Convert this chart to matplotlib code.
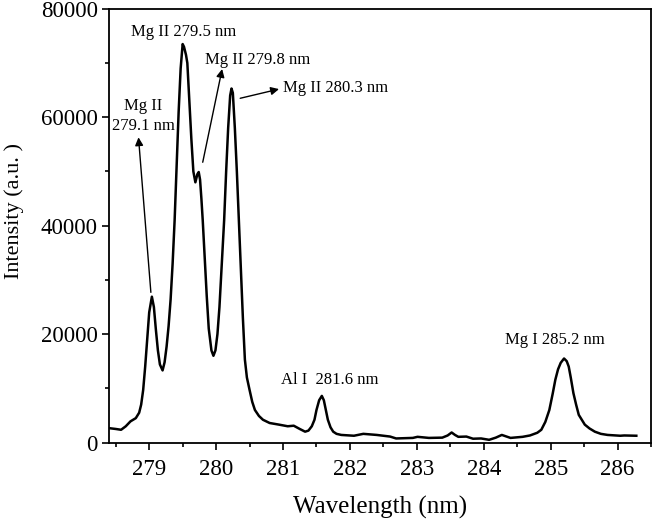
import matplotlib.pyplot as plt

# spectrum
wavelength = [278.40, 278.50, 278.58, 278.65, 278.72, 278.80, 278.85, 278.88, 278.91, 278.94,
              278.97, 279.00, 279.04, 279.07, 279.10, 279.13, 279.16, 279.20, 279.23, 279.26,
              279.29, 279.32, 279.35, 279.38, 279.41, 279.44, 279.47, 279.50, 279.52, 279.55,
              279.57, 279.60, 279.63, 279.66, 279.69, 279.72, 279.74, 279.76, 279.78, 279.80,
              279.83, 279.86, 279.89, 279.93, 279.96, 279.99, 280.02, 280.05, 280.08, 280.12,
              280.15, 280.18, 280.21, 280.23, 280.25, 280.28, 280.31, 280.34, 280.37, 280.40,
              280.43, 280.46, 280.50, 280.54, 280.58, 280.64, 280.70, 280.80, 280.94, 281.07,
              281.16, 281.25, 281.33, 281.38, 281.43, 281.47, 281.50, 281.54, 281.58, 281.61,
              281.64, 281.67, 281.71, 281.75, 281.80, 281.87, 282.06, 282.20, 282.40, 282.60,
              282.69, 282.94, 283.01, 283.18, 283.38, 283.46, 283.52, 283.57, 283.62, 283.74,
              283.84, 283.96, 284.08, 284.18, 284.27, 284.34, 284.40, 284.58, 284.69, 284.80,
              284.86, 284.92, 284.98, 285.03, 285.07, 285.11, 285.15, 285.20, 285.24, 285.27,
              285.30, 285.34, 285.38, 285.42, 285.51, 285.58, 285.66, 285.75, 285.85, 286.04,
              286.10, 286.28]
intensity = [2650, 2500, 2350, 3000, 3900, 4500, 5500, 7000, 9700, 14000,
             19000, 24000, 26900, 25000, 20800, 17000, 14400, 13300, 14800, 17700,
             21500, 26400, 33000, 41000, 51000, 61000, 69000, 73500, 73000, 71500,
             70000, 63000, 56000, 50000, 48000, 49500, 49900, 48500, 45000, 41000,
             34000, 27000, 21000, 17000, 16000, 17000, 20000, 25000, 32000, 41000,
             50000, 58000, 64000, 65300, 64500, 58000, 50000, 41000, 32000, 23000,
             15300, 12000, 9700, 7500, 6000, 4900, 4200, 3600, 3300, 3000,
             3100, 2500, 2000, 2200, 3000, 4200, 6000, 7800, 8600, 7800,
             6000, 4200, 2800, 2000, 1600, 1400, 1250, 1600, 1400, 1100,
             750, 850, 1050, 850, 900, 1300, 1850, 1400, 1050, 1100,
             700, 750, 500, 900, 1400, 1100, 850, 1050, 1300, 1800,
             2350, 3800, 6000, 9000, 11600, 13500, 14700, 15500, 15000, 14000,
             12000, 9100, 7000, 5100, 3300, 2600, 2000, 1600, 1400, 1250,
             1300, 1250]

x_ticks = [279, 280, 281, 282, 283, 284, 285, 286]
y_ticks = [0, 20000, 40000, 60000, 80000]

plt.rcParams['font.family'] = ['Liberation Serif', 'DejaVu Serif']

fig = plt.figure(figsize=(6.53, 5.2), dpi=100)
ax = fig.add_axes([0.167, 0.149, 0.83, 0.834])

ax.plot(wavelength, intensity, color='black', lw=1.8)

ax.set_xlim(278.4, 286.29)
ax.set_ylim(0, 80000)
ax.set_xticks(x_ticks)
ax.set_yticks(y_ticks)
ax.set_xticks([t + 0.5 for t in [278] + x_ticks], minor=True)
ax.set_yticks([10000, 30000, 50000, 70000], minor=True)
ax.tick_params(which='both', direction='out', top=False, right=False, labelsize=16.5, width=1.2)
ax.tick_params(which='major', length=5)
ax.tick_params(which='minor', length=3)
ax.tick_params(axis='x', which='major', pad=7)
ax.tick_params(axis='y', which='major', pad=3)
for s in ax.spines.values():
    s.set_linewidth(1.3)

ax.set_xlabel('Wavelength (nm)', fontsize=18)
ax.xaxis.set_label_coords(0.5, -0.122)
ax.set_ylabel('Intensity (a.u. )', fontsize=16)
ax.yaxis.set_label_coords(-0.157, 0.535)

arrow = dict(arrowstyle='-|>', color='black', lw=1, mutation_scale=12, shrinkA=0, shrinkB=0)
fs = 12

ax.text(278.91, 60200, 'Mg II\n279.1 nm', ha='center', va='center', fontsize=fs, linespacing=1.3)
ax.annotate('', xy=(278.84, 56300), xytext=(279.025, 27700), arrowprops=arrow)
ax.text(279.52, 75700, 'Mg II 279.5 nm', ha='center', va='center', fontsize=fs)
ax.text(280.62, 70500, 'Mg II 279.8 nm', ha='center', va='center', fontsize=fs)
ax.annotate('', xy=(280.09, 68900), xytext=(279.80, 51700), arrowprops=arrow)
ax.text(281.0, 65400, 'Mg II 280.3 nm', ha='left', va='center', fontsize=fs)
ax.annotate('', xy=(280.94, 65200), xytext=(280.36, 63500), arrowprops=arrow)
ax.text(280.97, 11600, 'Al I  281.6 nm', ha='left', va='center', fontsize=fs)
ax.text(284.32, 19000, 'Mg I 285.2 nm', ha='left', va='center', fontsize=fs)

plt.savefig('out.png', dpi=100)
